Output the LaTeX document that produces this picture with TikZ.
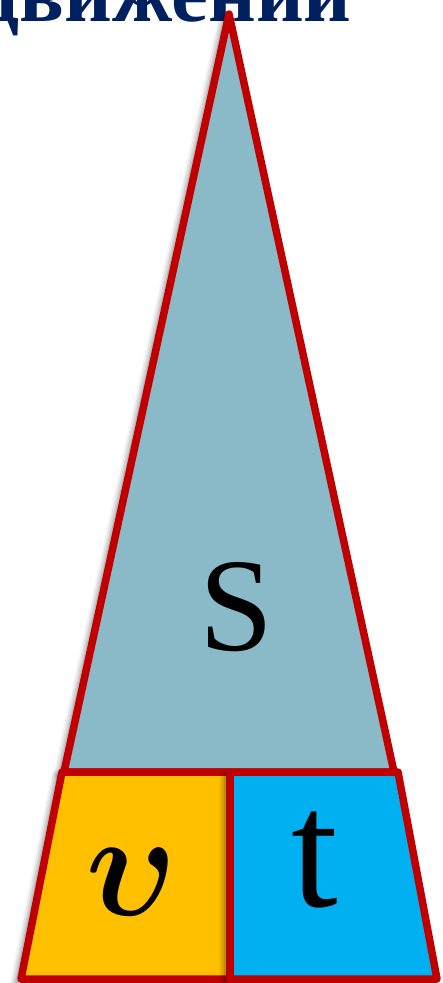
\documentclass[tikz,border=0pt]{standalone}
\usepackage{amsmath}
\usepackage{fontspec}
\setmainfont{Liberation Serif}
\usepackage{graphicx}
\usetikzlibrary{shadows.blur}
\definecolor{navy}{HTML}{002060}
\definecolor{tri}{HTML}{8AB9C7}
\definecolor{yel}{HTML}{FFC000}
\definecolor{cya}{HTML}{00B0F0}
\definecolor{edge}{HTML}{C00000}
\tikzset{
  part/.style={draw=edge, line width=7.5pt, line join=round,
    blur shadow={shadow xshift=-5pt, shadow yshift=-3pt, shadow blur radius=6pt, shadow opacity=55}},
  letter/.style={inner sep=0pt, text=black}
}
\begin{document}
\begin{tikzpicture}[x=1pt, y=-1pt]
\useasboundingbox (0,0) rectangle (442,983);
\clip (0,0) rectangle (442,983);
\node[anchor=base east, inner sep=0pt, text=navy, font=\fontsize{83}{85}\selectfont\bfseries] (title) at (352,21) {движений};
% triangle
\path[part, fill=tri] (229,14) -- (394,772) -- (64,772) -- cycle;
% bottom trapezoid halves
\path[part, fill=yel] (62,772) -- (230,772) -- (230,979) -- (21,979) -- cycle;
\path[part, fill=cya] (230,772) -- (398,772) -- (437,979) -- (230,979) -- cycle;
\node[letter, font=\fontsize{133}{140}\selectfont] (s) at (236,607) {S};
\node[letter] (v) at (132,882) {\scalebox{13.5}[15]{$\boldsymbol{\upsilon}$}};
\node[letter, anchor=base, font=\fontsize{168}{170}\selectfont] (t) at (315,906) {t};
\end{tikzpicture}
\end{document}
